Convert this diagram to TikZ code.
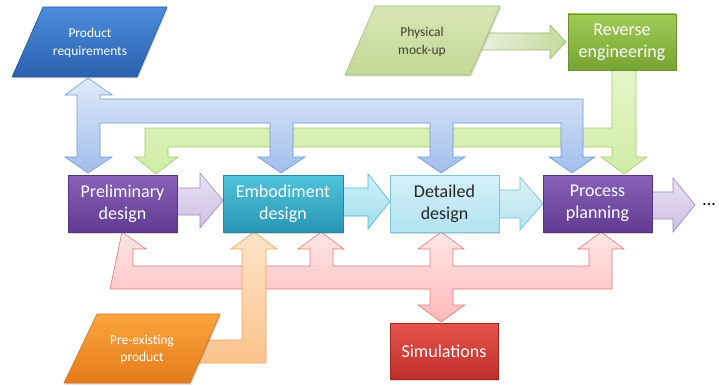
\documentclass[tikz,border=0pt]{standalone}
\usepackage{fontspec}
\setmainfont{Carlito}
\usetikzlibrary{shadows}
\definecolor{purpT}{HTML}{8762B7}
\definecolor{purpB}{HTML}{613B92}
\definecolor{purpD}{HTML}{56337F}
\definecolor{tealT}{HTML}{50C3DC}
\definecolor{tealB}{HTML}{2996B3}
\definecolor{tealD}{HTML}{2786A0}
\definecolor{cyanT}{HTML}{D4F1F9}
\definecolor{cyanB}{HTML}{B2E2F0}
\definecolor{cyanD}{HTML}{7FC4D9}
\definecolor{grnT}{HTML}{A0CB55}
\definecolor{grnB}{HTML}{77A432}
\definecolor{grnD}{HTML}{6A922E}
\definecolor{redT}{HTML}{E5544C}
\definecolor{redB}{HTML}{BF2F29}
\definecolor{redD}{HTML}{A32823}
\definecolor{bluT}{HTML}{4C8DDB}
\definecolor{bluB}{HTML}{2A61AE}
\definecolor{bluD}{HTML}{265795}
\definecolor{oraT}{HTML}{FAA53D}
\definecolor{oraB}{HTML}{E57C1D}
\definecolor{oraD}{HTML}{D4731C}
\definecolor{pgrT}{HTML}{D8E6B6}
\definecolor{pgrB}{HTML}{C3D796}
\definecolor{pgrD}{HTML}{A6BD78}
\definecolor{txtD}{HTML}{262626}
\definecolor{txtG}{HTML}{3E4230}
% connector colours
\definecolor{gcD}{HTML}{A0CC68}\definecolor{gcT}{HTML}{E5F6CA}\definecolor{gcB}{HTML}{D0ECA6}
\definecolor{bcD}{HTML}{6D98D4}\definecolor{bcT}{HTML}{E0EAFA}\definecolor{bcB}{HTML}{A0BEEC}
\definecolor{rcD}{HTML}{E07A7A}\definecolor{rcT}{HTML}{FFE6E6}\definecolor{rcB}{HTML}{FFB9B9}
\definecolor{ocD}{HTML}{F4A25C}\definecolor{ocT}{HTML}{FEE4C8}\definecolor{ocB}{HTML}{FBC38C}
\definecolor{mcD}{HTML}{9DB86C}\definecolor{mcL}{HTML}{EEF2E8}\definecolor{mcR}{HTML}{C4D99A}
\definecolor{lvD}{HTML}{9C86C4}\definecolor{lvT}{HTML}{E9E1F3}\definecolor{lvB}{HTML}{CDBEE3}
\definecolor{c1D}{HTML}{4DB7D2}\definecolor{c1T}{HTML}{D2F1F9}\definecolor{c1B}{HTML}{9EDDEE}
\definecolor{c2D}{HTML}{6EC1D7}\definecolor{c2T}{HTML}{DDF2F7}\definecolor{c2B}{HTML}{B6E2EE}
\tikzset{
  boxstyle/.style n args={3}{draw=#1, top color=#2, bottom color=#3, line width=0.6pt,
    drop shadow={shadow xshift=1.2pt, shadow yshift=-1.5pt, opacity=0.3}},
  bigtext/.style={align=center, font=\fontsize{18}{22}\selectfont},
  smalltext/.style={align=center, font=\fontsize{13.5}{17.5}\selectfont},
  conn/.style n args={3}{draw=#1, top color=#2, bottom color=#3, line width=0.6pt},
  hconn/.style n args={3}{draw=#1, left color=#2, right color=#3, line width=0.6pt},
}
\begin{document}
\begin{tikzpicture}[x=1pt,y=-1pt,line join=miter]
\useasboundingbox (0,0) rectangle (719,385);

% ---------- green feedback network (Reverse engineering) ----------
\path[conn={gcD}{gcT}{gcB}]
  (612,70) -- (636,70) -- (636,157) -- (647,157) -- (624,174) -- (601,157) -- (612,157)
  -- (612,147) -- (168,147) -- (168,157) -- (178,157) -- (156,174) -- (135,157)
  -- (145,157) -- (145,128) -- (612,128) -- cycle;

% ---------- blue network (Product requirements) ----------
\path[conn={bcD}{bcT}{bcB}]
  (88,78) -- (112,95) -- (100,95) -- (100,99) -- (583,99) -- (583,157) -- (595,157)
  -- (572,173) -- (549,157) -- (561,157) -- (561,123) -- (453,123) -- (453,157)
  -- (465,157) -- (441,173) -- (418,157) -- (430,157) -- (430,123) -- (293,123)
  -- (293,157) -- (305,157) -- (281,173) -- (258,157) -- (270,157) -- (270,123)
  -- (100,123) -- (100,157) -- (112,157) -- (88,173) -- (65,157) -- (77,157)
  -- (77,95) -- (65,95) -- cycle;

% ---------- red network (Simulations) ----------
\path[conn={rcD}{rcT}{rcB}]
  (122,232) -- (146,249) -- (133,249) -- (133,266) -- (310,266) -- (310,249)
  -- (298,249) -- (321,232) -- (344,249) -- (333,249) -- (333,266) -- (430,266)
  -- (430,249) -- (418,249) -- (441,232) -- (464,249) -- (453,249) -- (453,266)
  -- (589,266) -- (589,249) -- (578,249) -- (601,232) -- (624,249) -- (612,249)
  -- (612,289) -- (453,289) -- (453,305) -- (465,305) -- (441,322) -- (418,305)
  -- (430,305) -- (430,289) -- (110,289) -- cycle;

% ---------- orange connector (Pre-existing product) ----------
\path[conn={ocD}{ocT}{ocB}]
  (200,340) -- (242,340) -- (242,249) -- (231,249) -- (254,232) -- (277,249)
  -- (266,249) -- (266,363) -- (190,363) -- cycle;

% ---------- Physical mock-up -> Reverse engineering ----------
\path[hconn={mcD}{mcL}{mcR}]
  (478,33) -- (550,33) -- (550,25) -- (566,42) -- (550,59) -- (550,50) -- (470,50) -- cycle;

% ---------- flow arrows ----------
\path[conn={lvD}{lvT}{lvB}]
  (177,188) -- (200,188) -- (200,173) -- (223,200.5) -- (200,228) -- (200,215) -- (177,215) -- cycle;
\path[conn={c1D}{c1T}{c1B}]
  (343,188) -- (368,188) -- (368,174) -- (390,201.5) -- (368,229) -- (368,216) -- (343,216) -- cycle;
\path[conn={c2D}{c2T}{c2B}]
  (499,190) -- (520,190) -- (520,177) -- (543,203.5) -- (520,230) -- (520,218) -- (499,218) -- cycle;
\path[conn={lvD}{lvT}{lvB}]
  (652,192) -- (673,192) -- (673,178) -- (695,205) -- (673,232) -- (673,219) -- (652,219) -- cycle;

% ---------- parallelograms ----------
\path[boxstyle={bluD}{bluT}{bluB}] (43,7) -- (167,7) -- (137,77) -- (12,77) -- cycle;
\node[smalltext, text=white] (prodreq) at (90,43) {Product\\requirements};

\path[boxstyle={pgrD}{pgrT}{pgrB}] (375,6) -- (500,6) -- (470,75) -- (345,75) -- cycle;
\node[smalltext, text=txtG] (mockup) at (422,42) {Physical\\mock-up};

\path[boxstyle={oraD}{oraT}{oraB}] (97,314) -- (220,314) -- (190,383) -- (64,383) -- cycle;
\node[smalltext, text=white] (preexist) at (142,349.5) {Pre-existing\\product};

% ---------- boxes ----------
\node[boxstyle={purpD}{purpT}{purpB}, bigtext, text=white, minimum width=109pt, minimum height=57pt, inner sep=0pt]
  (prelim) at (122.5,203.5) {Preliminary\\design};
\node[boxstyle={tealD}{tealT}{tealB}, bigtext, text=white, minimum width=120pt, minimum height=57pt, inner sep=0pt]
  (embod) at (283,203.5) {Embodiment\\design};
\node[boxstyle={cyanD}{cyanT}{cyanB}, bigtext, text=txtD, minimum width=109pt, minimum height=57pt, inner sep=0pt]
  (detail) at (444.5,203.5) {Detailed\\design};
\node[boxstyle={purpD}{purpT}{purpB}, bigtext, text=white, minimum width=109pt, minimum height=57pt, inner sep=0pt]
  (process) at (597.5,203.5) {Process\\planning};
\node[boxstyle={grnD}{grnT}{grnB}, bigtext, text=white, minimum width=108pt, minimum height=56pt, inner sep=0pt]
  (reverse) at (622,42) {Reverse\\engineering};
\node[boxstyle={redD}{redT}{redB}, bigtext, text=white, minimum width=108pt, minimum height=56pt, inner sep=0pt]
  (sim) at (444,351) {Simulations};

\node[font=\fontsize{18}{22}\selectfont, text=black, inner sep=0pt] (dots) at (709,205) {\dots};
\end{tikzpicture}
\end{document}
